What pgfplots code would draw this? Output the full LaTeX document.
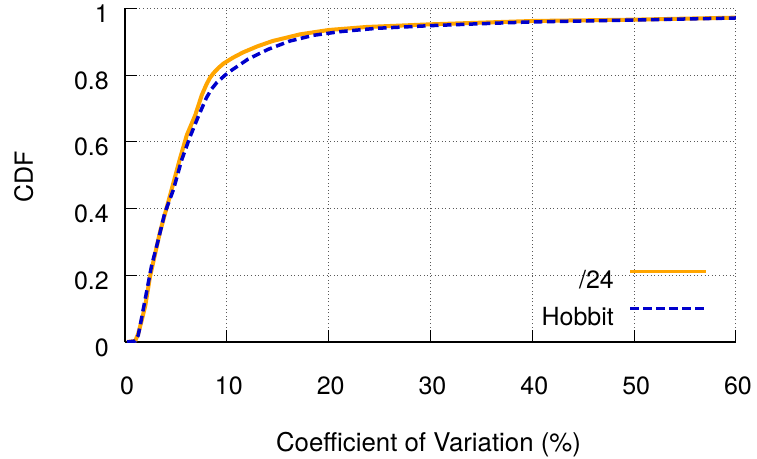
\documentclass[border=0pt]{standalone}
\usepackage{fontspec}
\setmainfont{TeX Gyre Heros}
\usepackage{pgfplots}
\pgfplotsset{compat=1.18}
\definecolor{gporange}{HTML}{FFA500}
\definecolor{gpblue}{HTML}{0000CC}
\begin{document}
\fontsize{25bp}{30bp}\selectfont
\begin{tikzpicture}
\begin{axis}[
  scale only axis,
  width=611bp, height=333.7bp,
  at={(0,0)}, anchor=south west,
  xmin=0, xmax=60, ymin=0, ymax=1,
  xtick={0,10,20,30,40,50,60},
  ytick={0,0.2,0.4,0.6,0.8,1},
  axis x line*=bottom, axis y line*=left,
  axis line style={-, line width=1.2bp, black},
  tick align=inside,
  major tick length=12bp,
  tick style={line width=1bp, black},
  grid=major,
  major grid style={black!65, line width=1bp, dash pattern=on 1bp off 2.6bp},
  /pgf/number format/assume math mode=true,
  yticklabel style={anchor=base east, inner sep=0pt, xshift=-16bp, yshift=-14bp},
  xticklabel style={anchor=base, inner sep=0pt, yshift=-52bp, xshift=2bp},
  xlabel={Coefficient of Variation (\%)},
  ylabel={CDF},
  xlabel style={at={(axis description cs:0.4967,-0.3296)}, anchor=base, inner sep=0pt, font=\fontsize{25.8bp}{30bp}\selectfont},
  ylabel style={at={(axis description cs:-0.1506,0.4945)}, anchor=base, rotate=0, inner sep=0pt},
  legend cell align=right,
  legend plot pos=right,
  legend style={draw=none, fill=none, inner sep=0pt, outer sep=0pt,
    at={(rel axis cs:0.9542,0.2217)}, anchor=north east,
    column sep=15bp, row sep=12bp,
    nodes={inner sep=0pt, text height=20bp, text depth=5bp}},
  legend image code/.code={\draw[#1, line width=3.2bp] (0bp,9bp) -- (76bp,9bp);},
]
\addplot[gporange, line width=4bp, line join=round] coordinates {
(0.2,0) (1.0,0.003) (1.3,0.025) (1.65,0.066) (2.0,0.11) (2.45,0.195) (3.0,0.27)
(3.44,0.33) (4.43,0.44) (5.4,0.55) (6.07,0.62) (6.9,0.68) (7.54,0.74) (8.0,0.772)
(8.35,0.792) (8.7,0.806) (9.2,0.822) (9.7,0.835) (10.6,0.852) (11.6,0.868) (13.0,0.886) (14.5,0.902)
(17.2,0.922) (20,0.935) (23.7,0.944) (30,0.952) (34,0.956) (40,0.962) (50,0.966) (60,0.972)
};
\addlegendentry{/24}
\addplot[gpblue, line width=3.5bp, dash pattern=on 8.5bp off 4.5bp] coordinates {
(0.2,0) (1.0,0.003) (1.3,0.02) (1.6,0.067) (2.1,0.147) (2.6,0.227) (3.3,0.31)
(3.9,0.386) (4.75,0.456) (5.57,0.546) (6.4,0.616) (7.2,0.676) (8.0,0.732) (8.5,0.758) (9.0,0.777)
(9.84,0.8) (10.5,0.815) (12.1,0.848) (14.05,0.877) (16.2,0.902) (18.5,0.919) (21.1,0.93)
(24.7,0.94) (30,0.948) (34.2,0.953) (39.7,0.959) (50,0.965) (60,0.971)
};
\addlegendentry{Hobbit}
\end{axis}
\pgfresetboundingbox
\path[use as bounding box] (-125bp,-117bp) rectangle (632bp,342bp);
\end{tikzpicture}
\end{document}
